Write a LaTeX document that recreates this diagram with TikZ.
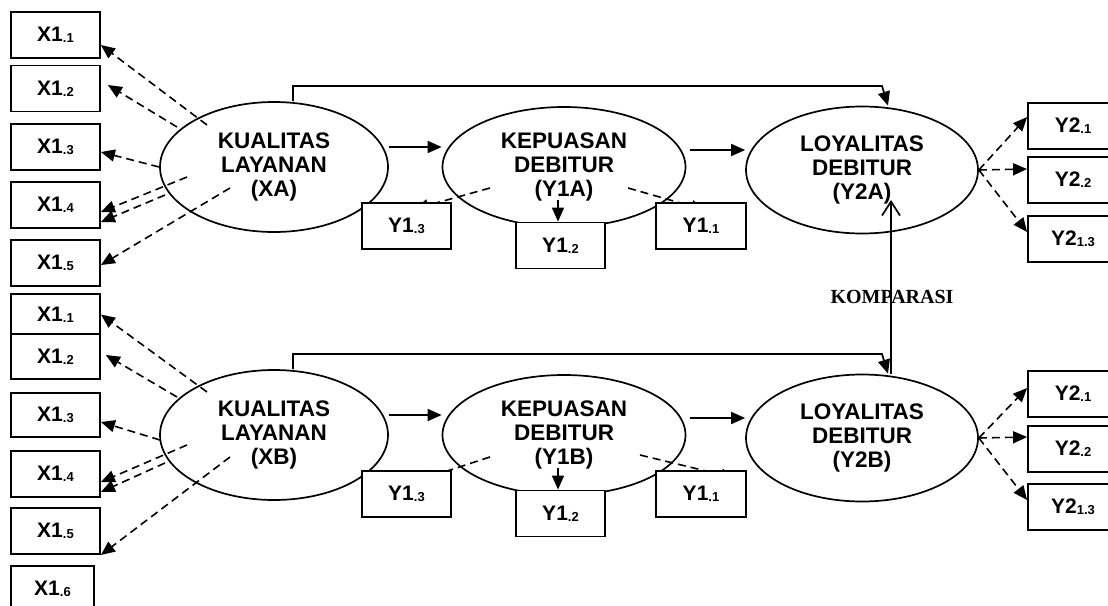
\documentclass[tikz,border=0pt]{standalone}
\usepackage{fontspec}
\setmainfont{Liberation Sans}
\newfontfamily\komfont{Liberation Serif}
\usetikzlibrary{shapes.geometric}
\usetikzlibrary{arrows.meta}
\usetikzlibrary{calc}

\pgfdeclarelayer{back}
\pgfsetlayers{back,main}

\newcommand{\idx}[2]{#1\raisebox{-1pt}{\fontsize{13}{13}\selectfont #2}}

\tikzset{
  ind/.style={rectangle,draw=black,line width=1.8pt,fill=white,minimum width=89pt,minimum height=46pt,inner sep=0pt,font=\fontsize{21}{23}\selectfont\bfseries},
  lat/.style={ellipse,draw=black,line width=1.7pt,inner sep=0pt,align=center,font=\fontsize{22.5}{24}\selectfont\bfseries},
  load/.style={dash pattern=on 8pt off 5pt,line width=1.6pt,-{Triangle[length=14pt,width=12pt]}},
  reg/.style={line width=1.7pt,-{Triangle[length=14pt,width=12pt]}}
}

\begin{document}
\begin{tikzpicture}[x=1pt,y=-1pt]
\useasboundingbox (0,0) rectangle (1108,605);

% upper model
\node[lat,minimum width=228pt,minimum height=130pt] (KA) at (274,167) {KUALITAS\\LAYANAN\\(XA)};
\node[lat,minimum width=243pt,minimum height=120pt] (KPA) at (564,167) {KEPUASAN\\DEBITUR\\(Y1A)};
\node[lat,minimum width=232pt,minimum height=127pt] (LA) at (862,170) {LOYALITAS\\DEBITUR\\(Y2A)};

\node[ind] (X11a) at (55.5,35) {\idx{X1}{.1}};
\node[ind] (X12a) at (55.5,88.5) {\idx{X1}{.2}};
\node[ind] (X13a) at (55.5,147) {\idx{X1}{.3}};
\node[ind] (X14a) at (55.5,205) {\idx{X1}{.4}};
\node[ind] (X15a) at (55.5,263) {\idx{X1}{.5}};

\node[ind] (Y13a) at (406.5,226) {\idx{Y1}{.3}};
\node[ind] (Y12a) at (560.5,245.5) {\idx{Y1}{.2}};
\node[ind,minimum width=90pt] (Y11a) at (701,226) {\idx{Y1}{.1}};

\node[ind,minimum width=90pt] (Y21a) at (1073,126) {\idx{Y2}{.1}};
\node[ind,minimum width=90pt] (Y22a) at (1073,180) {\idx{Y2}{.2}};
\node[ind,minimum width=90pt] (Y23a) at (1073,239) {\idx{Y2}{1.3}};

% lower model
\node[lat,minimum width=228pt,minimum height=130pt] (KB) at (274,435) {KUALITAS\\LAYANAN\\(XB)};
\node[lat,minimum width=243pt,minimum height=120pt] (KPB) at (564,435) {KEPUASAN\\DEBITUR\\(Y1B)};
\node[lat,minimum width=232pt,minimum height=127pt] (LB) at (862,438) {LOYALITAS\\DEBITUR\\(Y2B)};

\node[ind,minimum height=41pt] (X11b) at (55.5,314.5) {\idx{X1}{.1}};
\node[ind,minimum height=45pt] (X12b) at (55.5,356.5) {\idx{X1}{.2}};
\node[ind,minimum height=44pt] (X13b) at (55.5,415) {\idx{X1}{.3}};
\node[ind] (X14b) at (55.5,474) {\idx{X1}{.4}};
\node[ind] (X15b) at (55.5,531) {\idx{X1}{.5}};
\node[ind,minimum width=83pt] (X16b) at (52.5,589) {\idx{X1}{.6}};

\node[ind] (Y13b) at (406.5,494) {\idx{Y1}{.3}};
\node[ind] (Y12b) at (560.5,513.5) {\idx{Y1}{.2}};
\node[ind,minimum width=90pt] (Y11b) at (701,494) {\idx{Y1}{.1}};

\node[ind,minimum width=90pt] (Y21b) at (1073,394) {\idx{Y2}{.1}};
\node[ind,minimum width=90pt] (Y22b) at (1073,449) {\idx{Y2}{.2}};
\node[ind,minimum width=90pt] (Y23b) at (1073,507) {\idx{Y2}{1.3}};

\node[font=\komfont\fontsize{20}{22}\selectfont\bfseries] (kom) at (892,297) {KOMPARASI};

\coordinate (ca) at (882,86);
\coordinate (cb) at (882,354);

\begin{pgfonlayer}{back}
\draw[load] ($(KA)+(-67,-42)$) -- ([yshift=-10pt]X11a.east);
\draw[load] ($(KA)+(-97,-40)$) -- ([xshift=7pt,yshift=3.5pt]X12a.east);
\draw[load] (KA.west) -- ([yshift=-5pt]X13a.east);
\draw[load] ($(KA)+(-87,10)$) -- ([yshift=-7pt]X14a.east);
\draw[load] ($(KA)+(-109,28)$) -- ([yshift=-17pt]X14a.east);
\draw[load] ($(KA)+(-44,21)$) -- ([yshift=-2pt]X15a.east);

\draw[load] ($(KB)+(-67,-43)$) -- (X11b.east);
\draw[load] ($(KB)+(-97,-38)$) -- ([xshift=5pt,yshift=1.5pt]X12b.east);
\draw[load] ($(KB)+(-114,5)$) -- ([yshift=-7pt]X13b.east);
\draw[load] ($(KB)+(-87,10)$) -- ([yshift=-8pt]X14b.east);
\draw[load] ($(KB)+(-109,28)$) -- ([yshift=-18pt]X14b.east);
\draw[load] ($(KB)+(-44,22)$) -- ([yshift=-24pt]X15b.east);

\draw[load] ($(KPA)+(-74,21)$) -- ($(Y13a)+(8,-17)$);
\draw[load] ($(KPA)+(-6,33)$) -- ([xshift=-2.5pt]Y12a.north);
\draw[load] ($(KPA)+(64,21)$) -- ($(Y11a)+(4,-16)$);
\draw[load] ($(KPB)+(-74,22)$) -- ($(Y13b)+(13,-14)$);
\draw[load] ($(KPB)+(-6,33)$) -- ([xshift=-2.5pt]Y12b.north);
\draw[load] ($(KPB)+(76,20)$) -- ($(Y11b)+(34,-16)$);

\draw[load] (LA.east) -- ([yshift=9pt]Y21a.west);
\draw[load] (LA.east) -- ([yshift=11pt]Y22a.west);
\draw[load] (LA.east) -- ([yshift=7pt]Y23a.west);
\draw[load] (LB.east) -- ([yshift=6pt]Y21b.west);
\draw[load] (LB.east) -- ([yshift=12pt]Y22b.west);
\draw[load] (LB.east) -- ([yshift=7pt]Y23b.west);

\draw[reg] ([yshift=20pt]KA.east) -- ([yshift=20pt]KPA.west);
\draw[reg] ([xshift=4pt,yshift=17pt]KPA.east) -- ([yshift=20pt]LA.west);
\draw[reg] ([yshift=20pt]KB.east) -- ([yshift=20pt]KPB.west);
\draw[reg] ([xshift=4pt,yshift=17pt]KPB.east) -- ([yshift=20pt]LB.west);

\draw[reg] ([xshift=19pt]KA.north) |- (ca) -- ([xshift=26pt]LA.north);
\draw[reg] ([xshift=19pt]KB.north) |- (cb) -- ([xshift=26pt]LB.north);

\draw[line width=1.7pt,-{Straight Barb[length=14pt,width=18pt]}] ([xshift=29pt]LB.north) -- ($(LA)+(29,30)$);
\end{pgfonlayer}

\end{tikzpicture}
\end{document}
